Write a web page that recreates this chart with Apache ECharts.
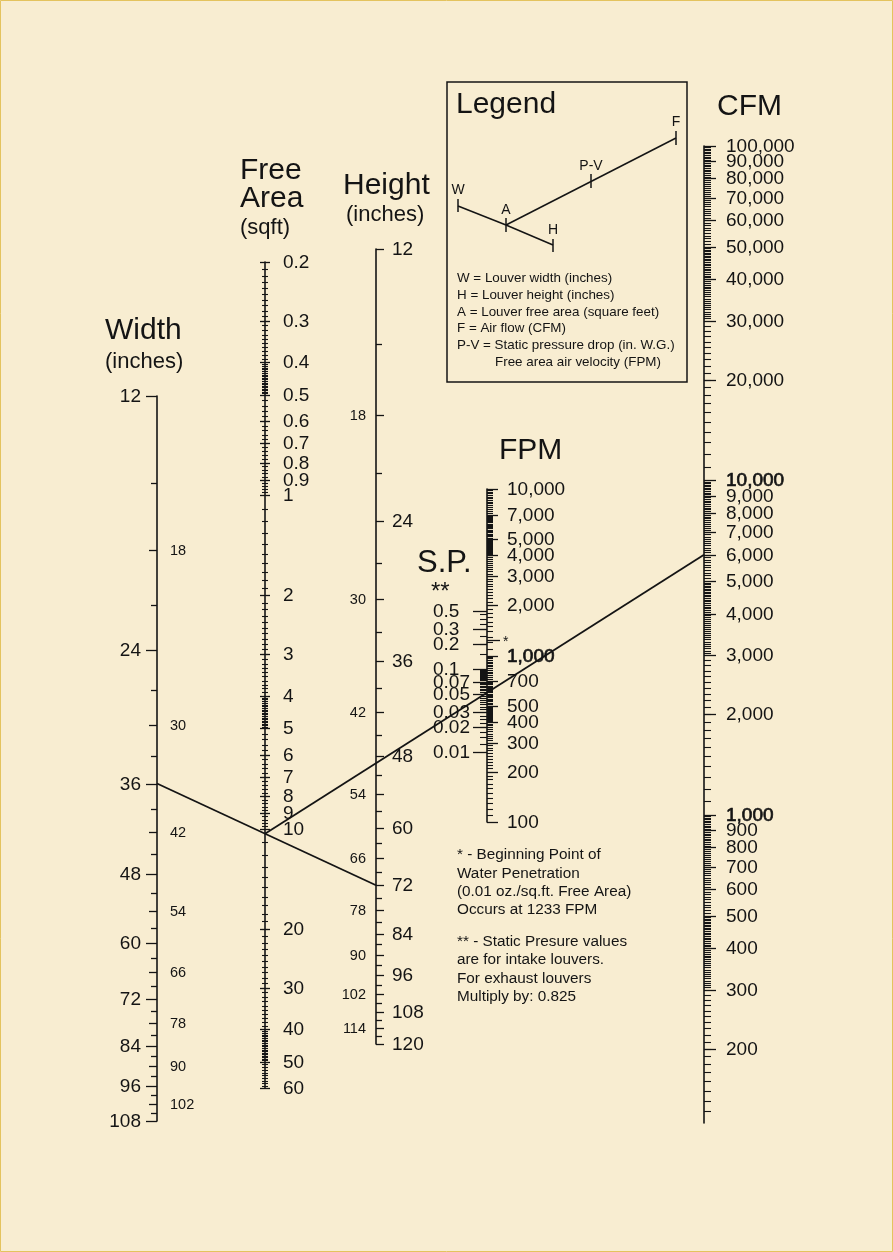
<!DOCTYPE html>
<html>
<head>
<meta charset="utf-8">
<script src="https://cdn.jsdelivr.net/npm/echarts@6/dist/echarts.min.js"></script>
<style>
html, body { margin: 0; padding: 0; background: #f8edd1; }
#container { width: 893px; height: 1252px; }
</style>
</head>
<body>
<div id="container"></div>
<script>
// ---- scale values ----
var widthMajor = [12, 24, 36, 48, 60, 72, 84, 96, 108];
var widthMid = [18, 30, 42, 54, 66, 78, 90, 102];
var widthMinor = [15, 21, 27, 33, 39, 45, 51, 57, 63, 69, 75, 81, 87, 93, 99, 105];

var heightMajor = [12, 24, 36, 48, 60, 72, 84, 96, 108, 120];
var heightMid = [18, 30, 42, 54, 66, 78, 90, 102, 114];
var heightMinor = [15, 21, 27, 33, 39, 45, 51, 57, 63, 69, 75, 81, 87, 93, 99, 105, 111, 117];

var areaLabels = [0.2, 0.3, 0.4, 0.5, 0.6, 0.7, 0.8, 0.9, 1, 2, 3, 4, 5, 6, 7, 8, 9, 10, 20, 30, 40, 50, 60];
var fpmLabels = [100, 200, 300, 400, 500, 700, 1000, 2000, 3000, 4000, 5000, 7000, 10000];
var spLabels = [0.5, 0.3, 0.2, 0.1, 0.07, 0.05, 0.03, 0.02, 0.01];
var cfmLabels = [200, 300, 400, 500, 600, 700, 800, 900, 1000, 2000, 3000, 4000, 5000, 6000, 7000, 8000, 9000,
                 10000, 20000, 30000, 40000, 50000, 60000, 70000, 80000, 90000, 100000];
var heavyLabels = {cfm: [1000, 10000], fpm: [1000]};  // printed darker on the original

var waterPenetrationFpm = 1233;   // the "*" mark
var spAtRef = 0.01, fpmAtRef = 263; // S.P. 0.01 sits opposite ~263 FPM (S.P. ~ V^2)

// the example reading drawn on the chart
var solveWidth = 36, solveHeight = 72, solveCfm = 6000;

// minor tick helper (regular graduations of a scale)
function ticksBetween(a, b, step) {
    var out = [];
    for (var v = a + step; v < b - step / 2; v += step) out.push(Math.round(v * 1e6) / 1e6);
    return out;
}
// graduations of one decade: [from, to, step] in units of the decade start
function decadeTicks(d, parts) {
    var out = [];
    parts.forEach(function (p) { out = out.concat(ticksBetween(p[0] * d, p[1] * d, p[2] * d)); });
    return out;
}
var areaParts = [[2, 4, 0.1], [4, 5, 0.05], [5, 10, 0.2]];
var areaMinor = decadeTicks(0.1, areaParts).concat(decadeTicks(1, [[1, 2, 0.1]]), decadeTicks(1, areaParts),
    decadeTicks(10, [[1, 4, 0.1], [4, 5, 0.05], [5, 6, 0.1]]));
var fpmParts = [[1, 4, 0.1], [4, 5, 0.02], [5, 7, 0.1], [7, 10, 0.2]];
var fpmMinor = decadeTicks(100, fpmParts).concat(decadeTicks(1000, fpmParts));
var spMinor = ticksBetween(0.01, 0.1, 0.0025).concat(ticksBetween(0.1, 0.5, 0.05));
var cfmParts = [[1, 3, 0.1], [3, 5, 0.05], [5, 10, 0.1]];
var cfmMinor = decadeTicks(100, cfmParts).concat(decadeTicks(1000, cfmParts), decadeTicks(10000, cfmParts))
    .filter(function (v) { return v > 120; });

// ---- layout ----
var FONT = '"Liberation Sans", Arial, Helvetica, sans-serif';
var INK = '#141414';
var axesDef = [
    {x: 157, top: 396, bottom: 1121, min: 12, max: 108, offset: 3.5, inverse: true},    // 0 width
    {x: 265, top: 262, bottom: 1088, min: 0.2, max: 60, offset: 0, inverse: true},      // 1 free area
    {x: 376, top: 249, bottom: 1044, min: 12, max: 120, offset: 4, inverse: true},      // 2 height
    {x: 487, top: 489, bottom: 822, min: 100, max: 10000, offset: 0, inverse: false},   // 3 fpm
    {x: 704, top: 146, bottom: 1123, min: 120, max: 100000, offset: 0, inverse: false}  // 4 cfm
];

function fmt(v) {
    if (v >= 1000) return String(v).replace(/\B(?=(\d{3})+(?!\d))/g, ',');
    return String(v);
}

var grids = [], xAxes = [], yAxes = [];
axesDef.forEach(function (a, i) {
    grids.push({left: a.x, top: a.top, width: 1, height: a.bottom - a.top, outerBoundsMode: 'none', containLabel: false});
    xAxes.push({gridIndex: i, type: 'value', min: 0, max: 1, show: false});
    yAxes.push({
        gridIndex: i, type: 'log', logBase: 10, inverse: a.inverse, position: 'left',
        min: a.min - a.offset, max: a.max - a.offset,
        axisLine: {show: true, lineStyle: {color: INK, width: 1.6}},
        axisTick: {show: false}, axisLabel: {show: false}, splitLine: {show: false}
    });
});
// S.P. scale shares the FPM grid
yAxes.push({
    gridIndex: 3, type: 'log', logBase: 10, inverse: false, position: 'left',
    min: spAtRef * Math.pow(100 / fpmAtRef, 2), max: spAtRef * Math.pow(10000 / fpmAtRef, 2),
    axisLine: {show: false}, axisTick: {show: false}, axisLabel: {show: false}, splitLine: {show: false}
});

function tickSeries(xi, yi, values, o) {
    var off = o.offset || 0;
    var heavy = o.heavy || [];
    return {
        type: 'custom', xAxisIndex: xi, yAxisIndex: yi, clip: false, silent: true, z: 3,
        data: values.map(function (v) { return [0, v - off, v]; }),
        renderItem: function (params, api) {
            var p = api.coord([0, api.value(1)]);
            var y = Math.round(p[1]) + 0.5;
            var kids = [{
                type: 'line',
                shape: {x1: p[0] + o.from, y1: y, x2: p[0] + o.to, y2: y},
                style: {stroke: INK, lineWidth: o.lw || 1.3}
            }];
            if (o.label) {
                var isHeavy = heavy.indexOf(api.value(2)) >= 0;
                kids.push({
                    type: 'text', x: p[0] + o.lx, y: y + (o.ly || 0),
                    style: {
                        text: o.text || fmt(api.value(2)), fill: INK,
                        font: (o.fs || 19) + 'px ' + FONT,
                        stroke: isHeavy ? INK : null, lineWidth: isHeavy ? 0.7 : 0,
                        textAlign: o.align, align: o.align,
                        textVerticalAlign: 'middle', verticalAlign: 'middle'
                    }
                });
            }
            return {type: 'group', children: kids};
        }
    };
}

var series = [
    tickSeries(0, 0, widthMinor, {offset: 3.5, from: -6, to: 0}),
    tickSeries(0, 0, widthMid, {offset: 3.5, from: -8, to: 0, label: true, lx: 13, align: 'left', fs: 14.5}),
    tickSeries(0, 0, widthMajor, {offset: 3.5, from: -11, to: 0, label: true, lx: -16, align: 'right', fs: 19}),

    tickSeries(1, 1, areaMinor, {from: -3, to: 3, lw: 1.1}),
    tickSeries(1, 1, areaLabels, {from: -5, to: 5, label: true, lx: 18, align: 'left', fs: 19}),

    tickSeries(2, 2, heightMinor, {offset: 4, from: 0, to: 6}),
    tickSeries(2, 2, heightMid, {offset: 4, from: 0, to: 8, label: true, lx: -10, align: 'right', fs: 14.5}),
    tickSeries(2, 2, heightMajor, {offset: 4, from: 0, to: 8, label: true, lx: 16, align: 'left', fs: 19}),

    tickSeries(3, 3, fpmMinor, {from: 0, to: 6, lw: 1.1}),
    tickSeries(3, 3, fpmLabels, {from: 0, to: 11, label: true, lx: 20, align: 'left', fs: 19, heavy: heavyLabels.fpm}),
    tickSeries(3, 3, [waterPenetrationFpm], {from: 0, to: 13, label: true, lx: 16, ly: 2, align: 'left', fs: 14, text: '*'}),

    tickSeries(3, 5, spMinor, {from: -7, to: 0, lw: 1.1}),
    tickSeries(3, 5, spLabels, {from: -14, to: 0, label: true, lx: -54, align: 'left', fs: 19}),

    tickSeries(4, 4, cfmMinor, {from: 0, to: 7, lw: 1.1}),
    tickSeries(4, 4, cfmLabels, {from: 0, to: 12, label: true, lx: 22, align: 'left', fs: 19, heavy: heavyLabels.cfm})
];

var chart = echarts.init(document.getElementById('container'), null, {renderer: 'canvas'});
chart.setOption({
    animation: false,
    backgroundColor: '#f8edd1',
    grid: grids, xAxis: xAxes, yAxis: yAxes, series: series
});

// ---- static texts and the solution lines ----
function txt(s, x, y, size, align) {
    return {
        type: 'text', x: x, y: y, z: 5, silent: true,
        style: {text: s, fill: INK, font: size + 'px ' + FONT,
                textAlign: align || 'left', align: align || 'left',
                textVerticalAlign: 'middle', verticalAlign: 'middle'}
    };
}
function seg(x1, y1, x2, y2, w) {
    return {type: 'line', z: 5, silent: true, shape: {x1: x1, y1: y1, x2: x2, y2: y2},
            style: {stroke: INK, lineWidth: w || 1.5}};
}

var pW = [axesDef[0].x, chart.convertToPixel({yAxisIndex: 0}, solveWidth - axesDef[0].offset)];
var pH = [axesDef[2].x, chart.convertToPixel({yAxisIndex: 2}, solveHeight - axesDef[2].offset)];
var pF = [axesDef[4].x, chart.convertToPixel({yAxisIndex: 4}, solveCfm)];
var xA = axesDef[1].x;
var pA = [xA, pW[1] + (xA - pW[0]) / (pH[0] - pW[0]) * (pH[1] - pW[1])];

var els = [
    {type: 'rect', z: 0, silent: true, shape: {x: 0.5, y: 0.5, width: 892, height: 1251},
     style: {fill: 'none', stroke: '#e4c35e', lineWidth: 1}},
    seg(pW[0], pW[1], pH[0], pH[1], 1.8),
    seg(pA[0], pA[1], pF[0], pF[1], 1.8),

    txt('Width', 105, 331, 30), txt('(inches)', 105, 362, 22),
    txt('Free', 240, 171, 30), txt('Area', 240, 199, 30), txt('(sqft)', 240, 228, 22),
    txt('Height', 343, 186, 30), txt('(inches)', 346, 215, 22),
    txt('FPM', 499, 451, 30),
    txt('S.P.', 417, 563, 31), txt('**', 431, 592, 24),
    txt('CFM', 717, 107, 30),

    // legend box
    {type: 'rect', z: 4, silent: true, shape: {x: 447, y: 82, width: 240, height: 300},
     style: {fill: 'none', stroke: INK, lineWidth: 1.5}},
    txt('Legend', 456, 105, 30),
    seg(458, 206, 506, 225), seg(506, 225, 553, 245), seg(506, 225, 676, 138),
    seg(458, 199, 458, 212), seg(506, 218, 506, 232), seg(553, 239, 553, 252),
    seg(591, 174, 591, 188), seg(676, 131, 676, 145),
    txt('W', 458, 190, 14, 'center'), txt('A', 506, 210, 14, 'center'), txt('H', 553, 230, 14, 'center'),
    txt('P-V', 591, 166, 14, 'center'), txt('F', 676, 122, 14, 'center'),
    txt('W = Louver width (inches)', 457, 278, 13.4),
    txt('H = Louver height (inches)', 457, 295, 13.4),
    txt('A = Louver free area (square feet)', 457, 312, 13.4),
    txt('F = Air flow (CFM)', 457, 328, 13.4),
    txt('P-V = Static pressure drop (in. W.G.)', 457, 345, 13.4),
    txt('Free area air velocity (FPM)', 495, 362, 13.4),

    // notes
    txt('* - Beginning Point of', 457, 855, 15.3),
    txt('Water Penetration', 457, 873.5, 15.3),
    txt('(0.01 oz./sq.ft. Free Area)', 457, 892, 15.3),
    txt('Occurs at 1233 FPM', 457, 910, 15.3),
    txt('** - Static Presure values', 457, 942, 15.3),
    txt('are for intake louvers.', 457, 960, 15.3),
    txt('For exhaust louvers', 457, 978.5, 15.3),
    txt('Multiply by: 0.825', 457, 997, 15.3)
];
chart.setOption({graphic: {elements: els}});
</script>
</body>
</html>
